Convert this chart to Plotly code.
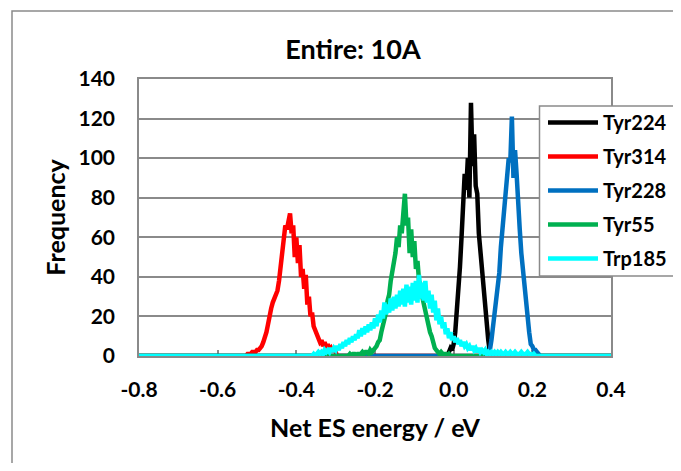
import numpy as np
import plotly.graph_objects as go

# ---- data (histogram counts, bin width 0.004 eV) ----
bin_width = 0.004
x_min, x_max = -0.8, 0.4

series_names = ["Tyr224", "Tyr314", "Tyr228", "Tyr55", "Trp185"]
series_colors = ["#000000", "#FF0000", "#0070C0", "#00B050", "#00FFFF"]

tyr224_start = -0.016
tyr224 = [0, 2, 4, 3, 6, 12, 22, 34, 45, 60, 72, 92, 84, 100, 80, 128, 96, 112, 86, 82,
          62, 52, 42, 32, 24, 16, 8, 2, 0]

tyr314_start = -0.524
tyr314 = [1, 1, 1, 2, 2, 2, 3, 3, 4, 5, 7, 9, 12, 16, 22, 24, 27, 29, 31, 33, 38, 46, 53,
          60, 66, 64, 70, 72, 62, 66, 50, 60, 47, 56, 40, 44, 34, 41, 26, 30, 20, 22, 15,
          13, 11, 9, 7, 8, 5, 7, 4, 6, 3, 4, 2, 4, 1, 0]

tyr228_start = 0.084
tyr228 = [0, 1, 3, 8, 14, 20, 28, 33, 42, 55, 64, 76, 84, 92, 100, 98, 121, 90, 104, 92,
          74, 64, 52, 44, 34, 26, 16, 12, 6, 5, 3, 3, 2, 1, 0]

tyr55_start = -0.268
tyr55 = [0, 1, 0, 1, 1, 0, 1, 1, 1, 2, 1, 2, 2, 1, 3, 2, 3, 4, 5, 7, 8, 12, 15, 20, 22, 28,
         31, 38, 42, 48, 52, 60, 55, 66, 62, 72, 82, 66, 70, 52, 64, 50, 58, 44, 48, 38,
         36, 30, 26, 22, 18, 15, 12, 10, 6, 4, 3, 2, 1, 2, 1, 1, 1, 0, 1, 0]

trp185_start = -0.360
trp185 = [0, 1, 0, 1, 2, 1, 2, 1, 3, 2, 3, 2, 4, 2, 4, 3, 5, 3, 6, 4, 7, 5, 8, 6, 9, 7,
          10, 8, 11, 9, 13, 10, 14, 11, 15, 12, 16, 13, 17, 14, 19, 15, 21, 17, 23, 19,
          27, 21, 26, 22, 29, 23, 30, 24, 31, 25, 33, 26, 34, 25, 36, 27, 35, 26, 37, 28,
          38, 27, 41, 29, 37, 28, 38, 27, 33, 24, 31, 22, 28, 18, 24, 16, 20, 14, 17, 11,
          14, 9, 12, 8, 10, 7, 9, 6, 8, 5, 7, 5, 6, 4, 5, 3, 5, 3, 4, 2, 4, 2, 3, 2, 3, 1,
          2, 1, 2, 1, 2, 1, 2, 1, 2, 1, 1, 2, 1, 1, 2, 1, 1, 2, 1, 1, 1, 2, 1, 1, 1, 2, 1,
          1, 0, 1, 0]

x_ticks = [-0.8, -0.6, -0.4, -0.2, 0.0, 0.2, 0.4]
x_tick_labels = ["-0.8", "-0.6", "-0.4", "-0.2", "0.0", "0.2", "0.4"]
y_ticks = [0, 20, 40, 60, 80, 100, 120, 140]

# ---- build full histograms on the common bin grid (zeros outside the peaks) ----
n_bins = int(round((x_max - x_min) / bin_width)) + 1
x_grid = np.round(x_min + bin_width * np.arange(n_bins), 3)


def full(start, values):
    y = np.zeros(n_bins)
    i0 = int(round((start - x_min) / bin_width))
    y[i0:i0 + len(values)] = values
    return y


series_values = [
    full(tyr224_start, tyr224),
    full(tyr314_start, tyr314),
    full(tyr228_start, tyr228),
    full(tyr55_start, tyr55),
    full(trp185_start, trp185),
]

FONT = "Lato"
GRAY = "#8A8A8A"

fig = go.Figure()
for i, (name, color, y) in enumerate(zip(series_names, series_colors, series_values)):
    fig.add_trace(go.Scatter(
        x=x_grid, y=y, mode="lines", name=name, legendgroup=f"g{i}",
        line=dict(color=color, width=4.5),
        cliponaxis=False,
    ))

# page body has an 8px margin; figure sized to fit the window exactly
OFF = 8
W, H = 681 - 2 * OFF, 471 - 2 * OFF
L, T = 131, 71
pw, ph = 472, 277
R, B = W - L - pw, H - T - ph


def px(xs):
    """screen x (window px) -> paper x"""
    return (xs - OFF - L) / pw


def py(ys):
    """screen y (window px) -> paper y"""
    return (T + ph - (ys - OFF)) / ph


bx0, by0 = px(12), py(11)
lx0, ly_top, ly_bot = px(539.5), py(106), py(276)

fig.update_layout(
    width=W, height=H,
    margin=dict(l=L, r=R, t=T, b=B, pad=0, autoexpand=False),
    paper_bgcolor="white", plot_bgcolor="white",
    font=dict(family=FONT, color="black", size=20, weight="bold"),
    title=dict(text="Entire: 10A", x=px(353), xanchor="center", xref="paper",
               y=1 - (50 - OFF) / H, yanchor="middle", yref="container",
               font=dict(family=FONT, size=27, weight="bold", color="black")),
    xaxis=dict(range=[x_min, x_max], tickvals=x_ticks, ticktext=x_tick_labels,
               showgrid=False, zeroline=False, automargin=False,
               showline=True, mirror=True, linecolor=GRAY, linewidth=1.5,
               ticks="inside", ticklen=6, tickcolor=GRAY, tickwidth=1.5,
               ticklabelstandoff=14,
               tickfont=dict(family=FONT, size=21, weight="bold"),
               title=dict(text="Net ES energy / eV", standoff=20,
                          font=dict(family=FONT, size=25, weight="bold")),
               layer="below traces"),
    yaxis=dict(range=[0, 140], tickvals=y_ticks, automargin=False,
               showgrid=True, gridcolor=GRAY, gridwidth=1.5, zeroline=False,
               showline=True, mirror=True, linecolor=GRAY, linewidth=1.5,
               ticks="", ticklabelstandoff=18,
               tickfont=dict(family=FONT, size=21, weight="bold"),
               title=dict(text="Frequency", standoff=6,
                          font=dict(family=FONT, size=25, weight="bold")),
               layer="below traces"),
    legend=dict(x=px(543), y=py(103), xanchor="left", yanchor="top",
                bgcolor="rgba(0,0,0,0)", borderwidth=0,
                font=dict(family=FONT, size=20, weight="bold"),
                traceorder="grouped", tracegroupgap=5,
                itemwidth=50),
    showlegend=True,
    shapes=[
        # outer chart border: left and top edges (the rest lies beyond the window)
        dict(type="path", xref="paper", yref="paper",
             path=f"M {bx0},-0.7 L {bx0},{by0} L 1.5,{by0}",
             line=dict(color=GRAY, width=1.5), layer="below"),
        # legend box background
        dict(type="rect", xref="paper", yref="paper",
             x0=lx0, x1=1.5, y0=ly_bot, y1=ly_top,
             line=dict(width=0), fillcolor="white", layer="above"),
        # legend box frame (left, top and bottom edges; right edge beyond the window)
        dict(type="path", xref="paper", yref="paper",
             path=f"M 1.5,{ly_top} L {lx0},{ly_top} L {lx0},{ly_bot} L 1.5,{ly_bot}",
             line=dict(color=GRAY, width=1.5), layer="above"),
    ],
)

fig.write_html("out.html", config={"displayModeBar": False})
